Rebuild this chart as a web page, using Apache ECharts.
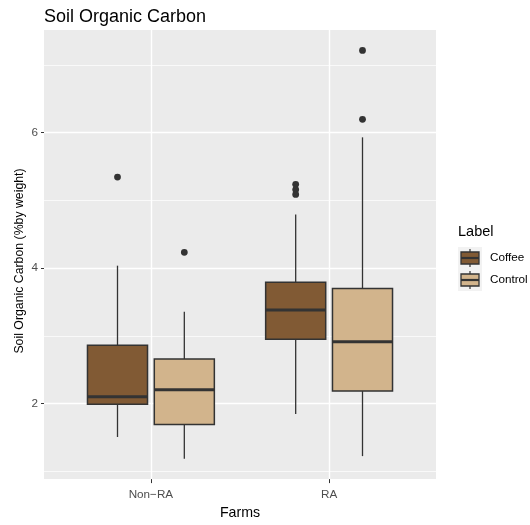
<!DOCTYPE html>
<html><head><meta charset="utf-8">
<script src="https://cdn.jsdelivr.net/npm/echarts@6/dist/echarts.min.js"></script>
<style>html,body{margin:0;padding:0;background:#fff}#c{width:530px;height:525px}</style>
</head><body><div id="c"></div>
<script>
// ---- data ----
const categories = ['Non\u2212RA', 'RA'];
const labels = ['Coffee', 'Control'];
// per category: [lower whisker, Q1, median, Q3, upper whisker]
const coffeeStats = [[1.505, 1.99, 2.10, 2.862, 4.036], [1.844, 2.95, 3.382, 3.793, 4.793]];
const controlStats = [[1.185, 1.689, 2.204, 2.659, 3.357], [1.223, 2.184, 2.911, 3.700, 5.932]];
const coffeeOutliers = [[5.345], [5.238, 5.161, 5.088]];
const controlOutliers = [[4.234], [7.216, 6.198]];
const yMajorTicks = [2, 4, 6];
const yMinorTicks = [1, 3, 5, 7];
const yTitle = 'Soil Organic Carbon (%by weight)';

// ---- styling / layout constants ----
const FONT = 'Liberation Sans, Arial, Helvetica, sans-serif';
const colors = { Coffee: '#815A34', Control: '#D2B48C' };
const DODGE = 0.1875, HALF = 0.1685;
const LINE = '#333333';

// y range like ggplot (5% expansion)
const allVals = [].concat(...coffeeStats, ...controlStats, ...coffeeOutliers, ...controlOutliers);
const dMin = Math.min(...allVals), dMax = Math.max(...allVals);
const ySpan = dMax - dMin;
const yMin = dMin - 0.05 * ySpan, yMax = dMax + 0.05 * ySpan;

function boxData(stats) { return stats.map((s, i) => [i + 1].concat(s)); }
function outData(outs) { const r = []; outs.forEach((arr, i) => arr.forEach(v => r.push([i + 1, v]))); return r; }

function makeBoxRender(offset, fill) {
  return function (params, api) {
    const x = api.value(0) + offset;
    const lo = api.value(1), q1 = api.value(2), med = api.value(3), q3 = api.value(4), hi = api.value(5);
    const tl = api.coord([x - HALF, q3]), br = api.coord([x + HALF, q1]);
    const pHi = api.coord([x, hi]), pQ3 = api.coord([x, q3]), pQ1 = api.coord([x, q1]), pLo = api.coord([x, lo]);
    const m1 = api.coord([x - HALF, med]), m2 = api.coord([x + HALF, med]);
    return { type: 'group', children: [
      { type: 'line', shape: { x1: pHi[0], y1: pHi[1], x2: pQ3[0], y2: pQ3[1] }, style: { stroke: LINE, lineWidth: 1.3 } },
      { type: 'line', shape: { x1: pQ1[0], y1: pQ1[1], x2: pLo[0], y2: pLo[1] }, style: { stroke: LINE, lineWidth: 1.3 } },
      { type: 'rect', shape: { x: tl[0], y: tl[1], width: br[0] - tl[0], height: br[1] - tl[1] }, style: { fill: fill, stroke: LINE, lineWidth: 1.5 } },
      { type: 'line', shape: { x1: m1[0], y1: m1[1], x2: m2[0], y2: m2[1] }, style: { stroke: LINE, lineWidth: 3 } }
    ]};
  };
}
function makePointRender(offset) {
  return function (params, api) {
    const p = api.coord([api.value(0) + offset, api.value(1)]);
    return { type: 'circle', shape: { cx: p[0], cy: p[1], r: 3.4 }, style: { fill: '#333333' } };
  };
}

const gridLines = []
  .concat(yMinorTicks.map(v => ({ yAxis: v, lineStyle: { color: '#FFFFFF', width: 0.7, type: 'solid' } })))
  .concat(yMajorTicks.map(v => ({ yAxis: v, lineStyle: { color: '#FFFFFF', width: 1.4, type: 'solid' } })))
  .concat(categories.map((c, i) => ({ xAxis: i + 1, lineStyle: { color: '#FFFFFF', width: 1.4, type: 'solid' } })));

const chart = echarts.init(document.getElementById('c'), null, { renderer: 'canvas' });

// legend glyphs (ggplot style keys) + y axis title
const legendX = 458, keyW = 24, keyH = 22, keyTop = 247;
const graphics = [
  { type: 'text', left: legendX, top: 224, style: { text: 'Label', fontSize: 14.5, fontFamily: FONT, fill: '#000' } },
  { type: 'text', x: 19.5, y: 261, rotation: Math.PI / 2,
    style: { text: yTitle, fontSize: 12.3, fontFamily: FONT, fill: '#000', align: 'center', verticalAlign: 'middle' } }
];
labels.forEach((lab, k) => {
  const y0 = keyTop + k * keyH;
  const cx = legendX + keyW / 2;
  graphics.push(
    { type: 'rect', shape: { x: legendX, y: y0, width: keyW, height: keyH }, style: { fill: '#F2F2F2' } },
    { type: 'line', shape: { x1: cx, y1: y0 + 2, x2: cx, y2: y0 + keyH - 2 }, style: { stroke: LINE, lineWidth: 1.2 } },
    { type: 'rect', shape: { x: legendX + 3, y: y0 + 5, width: keyW - 6, height: keyH - 10 }, style: { fill: colors[lab], stroke: LINE, lineWidth: 1.3 } },
    { type: 'line', shape: { x1: legendX + 3, y1: y0 + keyH / 2, x2: legendX + keyW - 3, y2: y0 + keyH / 2 }, style: { stroke: LINE, lineWidth: 2.2 } },
    { type: 'text', left: legendX + 32, top: y0 + 5, style: { text: lab, fontSize: 11.7, fontFamily: FONT, fill: '#000' } }
  );
});

chart.setOption({
  animation: false,
  backgroundColor: '#FFFFFF',
  textStyle: { fontFamily: FONT },
  title: { text: 'Soil Organic Carbon', left: 44, top: 8, padding: 0, textStyle: { fontSize: 18, fontWeight: 'normal', color: '#000', fontFamily: FONT } },
  grid: { left: 44, right: 94, top: 30, bottom: 39, show: true, backgroundColor: '#EBEBEB', borderWidth: 0, containLabel: false },
  xAxis: {
    type: 'value', min: 0.4, max: 2.6,
    axisLine: { show: false }, splitLine: { show: false },
    axisTick: { show: true, customValues: categories.map((c, i) => i + 1), length: 4, lineStyle: { color: LINE, width: 1 } },
    axisLabel: { customValues: categories.map((c, i) => i + 1), formatter: v => categories[Math.round(v) - 1] || '', color: '#4D4D4D', fontSize: 11.7, margin: 10, fontFamily: FONT },
    name: 'Farms', nameLocation: 'middle', nameGap: 22,
    nameTextStyle: { fontSize: 14.2, color: '#000', fontFamily: FONT }
  },
  yAxis: {
    type: 'value', min: yMin, max: yMax,
    axisLine: { show: false }, splitLine: { show: false },
    axisTick: { show: true, customValues: yMajorTicks, length: 3, lineStyle: { color: LINE, width: 1 } },
    axisLabel: { customValues: yMajorTicks, color: '#4D4D4D', fontSize: 11.7, margin: 6, fontFamily: FONT }
  },
  graphic: graphics,
  series: [
    { type: 'line', data: [], z: 1, silent: true,
      markLine: { z: 1, silent: true, symbol: ['none', 'none'], label: { show: false }, data: gridLines, animation: false } },
    { type: 'custom', name: 'Coffee', z: 3, renderItem: makeBoxRender(-DODGE, colors.Coffee), encode: { x: 0, y: [1, 2, 3, 4, 5] }, data: boxData(coffeeStats) },
    { type: 'custom', name: 'Control', z: 3, renderItem: makeBoxRender(DODGE, colors.Control), encode: { x: 0, y: [1, 2, 3, 4, 5] }, data: boxData(controlStats) },
    { type: 'custom', name: 'Coffee outliers', z: 4, renderItem: makePointRender(-DODGE), encode: { x: 0, y: 1 }, data: outData(coffeeOutliers) },
    { type: 'custom', name: 'Control outliers', z: 4, renderItem: makePointRender(DODGE), encode: { x: 0, y: 1 }, data: outData(controlOutliers) }
  ]
});
</script></body></html>
